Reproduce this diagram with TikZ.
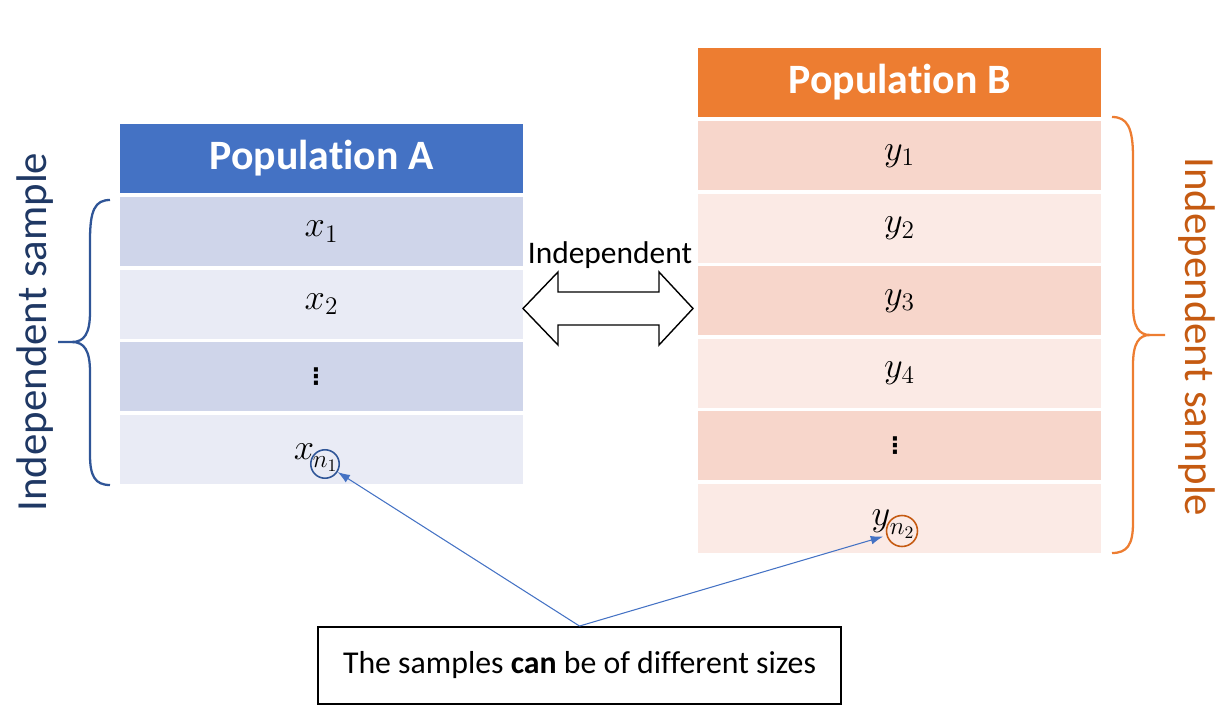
\documentclass[tikz,border=0pt]{standalone}
\usepackage{fontspec}
\setmainfont{Carlito}[Ligatures=NoCommon]
\newfontfamily\dejavu{DejaVu Sans}
\usetikzlibrary{arrows.meta}
\definecolor{blueHead}{HTML}{4472C4}
\definecolor{blueDark}{HTML}{CFD5EA}
\definecolor{blueLight}{HTML}{E9EBF5}
\definecolor{blueBrace}{HTML}{2F5597}
\definecolor{blueText}{HTML}{1F3864}
\definecolor{orangeHead}{HTML}{ED7D31}
\definecolor{orangeDark}{HTML}{F7D6CB}
\definecolor{orangeLight}{HTML}{FBEAE5}
\definecolor{orangeText}{HTML}{C55A11}
\tikzset{
  cell/.style={inner sep=0pt, outer sep=0pt, minimum width=8.06cm, minimum height=1.39cm, font=\fontsize{20}{22}\selectfont},
  headA/.style={cell, fill=blueHead, minimum height=1.38cm, text=white, font=\fontsize{23.8}{28}\selectfont\bfseries},
  headB/.style={cell, fill=orangeHead, minimum height=1.38cm, text=white, font=\fontsize{23.8}{28}\selectfont\bfseries},
  sidetext/.style={font=\fontsize{24.4}{28}\selectfont, inner sep=0pt},
  brace/.style={line width=1.3pt},
  pointer/.style={draw=blueHead, line width=0.6pt, -{Latex[length=7pt,width=5pt]}},
  ring/.style={circle, draw, line width=0.9pt, inner sep=0pt},
  dots/.style={inner sep=0pt, font=\dejavu\bfseries\fontsize{13}{15}\selectfont}
}
\newcommand{\low}[1]{\raisebox{-3pt}{#1}}
\begin{document}
\begin{tikzpicture}[x=0.02cm, y=-0.02cm]
\useasboundingbox (0,0) rectangle (1225,716);
% Table A
\node[headA] (hA) at (321.5,158.5) {Population A};
\node[cell, fill=blueDark] (a1) at (321.5,231.75) {\low{$x_1$}};
\node[cell, fill=blueLight] (a2) at (321.5,304.25) {\low{$x_2$}};
\node[cell, fill=blueDark] (a3) at (321.5,376.75) {};
\node[dots] (dA) at (316,377) {⋮};
\node[cell, fill=blueLight] (a4) at (321.5,449.25) {};
\node[inner sep=0pt, font=\fontsize{20}{22}\selectfont] (xn) at (304,452) {$x$};
\node[ring, draw=blueBrace, minimum size=0.5cm, font=\fontsize{20}{22}\selectfont] (circA) at (325,464) {$\scriptstyle n_1$};
% Table B
\node[headB] (hB) at (899.5,82.5) {Population B};
\node[cell, fill=orangeDark] (b1) at (899.5,155.75) {\low{$y_1$}};
\node[cell, fill=orangeLight] (b2) at (899.5,228.25) {\low{$y_2$}};
\node[cell, fill=orangeDark] (b3) at (899.5,300.75) {\low{$y_3$}};
\node[cell, fill=orangeLight] (b4) at (899.5,373.25) {\low{$y_4$}};
\node[cell, fill=orangeDark] (b5) at (899.5,445.75) {};
\node[dots] (dB) at (895,446) {⋮};
\node[cell, fill=orangeLight] (b6) at (899.5,518.25) {};
\node[inner sep=0pt, font=\fontsize{20}{22}\selectfont] (yn) at (881,521) {$y$};
\node[ring, draw=orangeText, minimum size=0.62cm, font=\fontsize{20}{22}\selectfont] (circB) at (902,531) {$\scriptstyle n_2$};
% Double arrow
\draw[line width=0.8pt, fill=white] (523,308.5) -- (558,272) -- (558,292) -- (659,292) -- (659,272) -- (693,308.5) -- (659,345) -- (659,325) -- (558,325) -- (558,345) -- cycle;
\node[font=\fontsize{17.9}{20}\selectfont, inner sep=0pt] (indep) at (610,255) {Independent};
% Left brace
\draw[brace, draw=blueBrace] (110,200) .. controls (95,200) and (90,210) .. (90,240) -- (90,312) .. controls (90,334) and (84,342) .. (72,342) -- (58,342);
\draw[brace, draw=blueBrace] (72,342) .. controls (84,342) and (90,350) .. (90,372) -- (90,455) .. controls (90,476) and (95,485) .. (110,485);
\node[sidetext, text=blueText, rotate=90] (lt) at (35,332) {Independent sample};
% Right brace
\draw[brace, draw=orangeHead] (1112,117) .. controls (1127,117) and (1133,127) .. (1133,157) -- (1133,305) .. controls (1133,327) and (1139,335) .. (1150,335) -- (1165,335);
\draw[brace, draw=orangeHead] (1150,335) .. controls (1139,335) and (1133,343) .. (1133,365) -- (1133,523) .. controls (1133,545) and (1127,553) .. (1112,553);
\node[sidetext, text=orangeText, rotate=-90] (rt) at (1197,337) {Independent sample};
% Bottom box
\node[draw, line width=1.1pt, minimum width=10.46cm, minimum height=1.54cm, inner sep=0pt, font=\fontsize{18.1}{20}\selectfont] (note) at (579.5,665.5) {The samples \textbf{can} be of different sizes};
\draw[pointer] (note.north) -- (circA);
\draw[pointer, shorten >=2pt] (note.north) -- (circB);
\end{tikzpicture}
\end{document}
